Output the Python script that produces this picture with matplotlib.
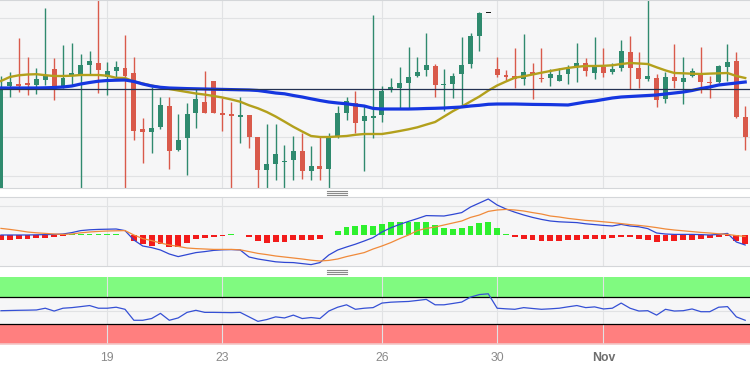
import matplotlib
matplotlib.use('Agg')
import matplotlib.pyplot as plt
import numpy as np
from matplotlib.lines import Line2D

plt.rcParams['font.family'] = ['Liberation Sans', 'DejaVu Sans']

# 4h candles, Oct 18 -> Nov 1
opens = [1.0508, 1.0614, 1.06165, 1.06165, 1.0615, 1.0620, 1.0631, 1.0614, 1.0624, 1.0626,
         1.0635, 1.0637, 1.0623, 1.0629, 1.0632, 1.0627, 1.0571, 1.0568, 1.0573, 1.0594,
         1.0550, 1.0562, 1.0587, 1.0598, 1.0619, 1.0587, 1.0586, 1.0583, 1.0585, 1.0563,
         1.0530, 1.0536, 1.0538, 1.0540, 1.0549, 1.0529, 1.0534, 1.0531, 1.0563, 1.0587,
         1.0597, 1.0579, 1.0582, 1.0585, 1.0611, 1.0612, 1.0617, 1.0624, 1.0630, 1.0634,
         1.0615, 1.0616, 1.0626, 1.0636, 1.0664, 1.0687, 1.0631, 1.06245, 1.0624, 1.0621,
         1.0628, 1.0622, 1.0622, 1.0619, 1.0626, 1.0633, 1.0637, 1.0627, 1.0633, 1.0628,
         1.0632, 1.0648, 1.0632, 1.0621, 1.0622, 1.0601, 1.0623, 1.0618, 1.0624, 1.0626,
         1.0618, 1.0618, 1.0633, 1.0639, 1.0583]
highs = [1.0624, 1.0628, 1.0662, 1.0643, 1.0632, 1.0692, 1.0642, 1.0655, 1.0657, 1.0646,
         1.0649, 1.0702, 1.0638, 1.0639, 1.0665, 1.0643, 1.0582, 1.0613, 1.0603, 1.0603,
         1.0586, 1.0597, 1.0612, 1.0629, 1.0619, 1.0602, 1.0598, 1.0603, 1.0585, 1.0563,
         1.0576, 1.0576, 1.0555, 1.0564, 1.0567, 1.0554, 1.0563, 1.0567, 1.0594, 1.0603,
         1.0609, 1.0595, 1.0685, 1.0614, 1.0622, 1.0633, 1.0653, 1.0643, 1.0667, 1.0636,
         1.0631, 1.0627, 1.0663, 1.0667, 1.0688, 1.0687, 1.0643, 1.0630, 1.0652, 1.0666,
         1.0637, 1.0652, 1.0631, 1.0632, 1.0635, 1.0657, 1.0642, 1.0663, 1.0652, 1.0637,
         1.0660, 1.0664, 1.0648, 1.0702, 1.0626, 1.0628, 1.0656, 1.0643, 1.0632, 1.0653,
         1.0624, 1.0635, 1.0656, 1.0648, 1.0594]
lows = [1.0505, 1.0603, 1.0608, 1.0605, 1.0606, 1.0615, 1.0600, 1.0612, 1.0615, 1.0508,
        1.0625, 1.0607, 1.0605, 1.0623, 1.0508, 1.0560, 1.0537, 1.0547, 1.0571, 1.0531,
        1.0549, 1.0525, 1.0572, 1.0587, 1.0587, 1.0569, 1.0508, 1.0557, 1.0552, 1.0508,
        1.0508, 1.0520, 1.0508, 1.0520, 1.0521, 1.0520, 1.0520, 1.0508, 1.0562, 1.0580,
        1.0567, 1.0529, 1.0562, 1.0578, 1.0608, 1.0591, 1.0591, 1.0623, 1.0624, 1.0603,
        1.0589, 1.0602, 1.0595, 1.0632, 1.0649, 1.0687, 1.0623, 1.0620, 1.0612, 1.0615,
        1.0601, 1.0618, 1.0614, 1.0619, 1.0616, 1.0618, 1.0624, 1.0621, 1.0623, 1.0626,
        1.0629, 1.0611, 1.0612, 1.0619, 1.0593, 1.0597, 1.0612, 1.0596, 1.0623, 1.0607,
        1.0602, 1.0617, 1.0619, 1.0582, 1.0550]
closes = [1.0611, 1.0618, 1.06145, 1.06155, 1.0621, 1.0624, 1.0614, 1.0622, 1.0627, 1.0635,
          1.0639, 1.0630, 1.0629, 1.0633, 1.0624, 1.0569, 1.0568, 1.0572, 1.0595, 1.0549,
          1.0560, 1.0586, 1.0601, 1.0587, 1.0587, 1.05855, 1.0584, 1.0585, 1.0563, 1.0530,
          1.0536, 1.0546, 1.0539, 1.0549, 1.0529, 1.0534, 1.0531, 1.0563, 1.0587, 1.0599,
          1.0577, 1.0584, 1.0584, 1.0609, 1.0613, 1.0617, 1.0623, 1.0628, 1.0635, 1.0615,
          1.0616, 1.0624, 1.0635, 1.0664, 1.0687, 1.0687, 1.0625, 1.06235, 1.0621, 1.0628,
          1.0625, 1.0621, 1.0626, 1.0625, 1.0631, 1.0637, 1.0629, 1.0633, 1.0627, 1.0631,
          1.0649, 1.0632, 1.0621, 1.0624, 1.0600, 1.0623, 1.0619, 1.0622, 1.0629, 1.0618,
          1.0617, 1.0634, 1.0638, 1.0583, 1.0563]

# moving averages
ma_fast = [1.0619, 1.0623, 1.06247, 1.06255, 1.06258, 1.06248, 1.0624, 1.0624, 1.06243, 1.0625,
           1.0625, 1.0625, 1.06243, 1.06222, 1.0622, 1.06185, 1.06165, 1.06145, 1.06125, 1.0611,
           1.06095, 1.0608, 1.06065, 1.06054, 1.0604, 1.06025, 1.06005, 1.05983, 1.05947, 1.05917,
           1.0588, 1.05835, 1.05784, 1.05732, 1.05685, 1.0564, 1.0563, 1.0563, 1.05635, 1.0564,
           1.05652, 1.0566, 1.0566, 1.0566, 1.05674, 1.0569, 1.05707, 1.05727, 1.05754, 1.0578,
           1.05834, 1.05888, 1.05935, 1.05985, 1.06035, 1.06094, 1.06145, 1.06185, 1.06223, 1.06237,
           1.06255, 1.06273, 1.0629, 1.06306, 1.06321, 1.06332, 1.0634, 1.0634, 1.06342, 1.06347,
           1.0636, 1.0637, 1.06365, 1.0636, 1.06327, 1.06296, 1.0627, 1.06267, 1.06263, 1.0626,
           1.06264, 1.06267, 1.0627, 1.0624, 1.0622]
ma_slow = [1.0612, 1.0612, 1.0612, 1.0612, 1.0612, 1.06122, 1.06125, 1.0613, 1.0614, 1.0616,
           1.06175, 1.06188, 1.06195, 1.06198, 1.0620, 1.06185, 1.0616, 1.0614, 1.06127, 1.0612,
           1.06117, 1.06114, 1.06112, 1.0611, 1.06108, 1.06106, 1.06104, 1.06102, 1.0610, 1.06095,
           1.06083, 1.0607, 1.06062, 1.06045, 1.0603, 1.06012, 1.05995, 1.0598, 1.0597, 1.05962,
           1.0595, 1.0594, 1.05916, 1.0591, 1.0591, 1.0591, 1.0591, 1.05912, 1.05915, 1.05917,
           1.0592, 1.05925, 1.0593, 1.0594, 1.05947, 1.05957, 1.0596, 1.0596, 1.0596, 1.05958,
           1.05956, 1.05955, 1.05954, 1.05952, 1.0595, 1.05965, 1.0598, 1.0599, 1.06005, 1.0602,
           1.0603, 1.06035, 1.0604, 1.06045, 1.0605, 1.0606, 1.0607, 1.0608, 1.06095, 1.06115,
           1.0613, 1.0615, 1.0616, 1.0617, 1.0618]
price_line = 1.0611
price_grid = [1.0682, 1.06425, 1.0603, 1.05635, 1.0524]

# MACD (pips)
macd_line = [0, 0, 0, 0, 0.1, 0.2, 0.3, 0.5, 1.2, 2.2,
             2.6, 2.8, 2.9, 3.0, 2.2, -2.5, -5.5, -6.3, -7.5, -9.5,
             -10.8, -9.8, -8.8, -8.3, -7.7, -7.4, -7.3, -7.5, -11, -12,
             -12.7, -13.4, -13.7, -13.8, -14.3, -14.8, -13.8, -10, -7.5, -6,
             -4.6, -3, -1.3, 1.5, 3.6, 5.3, 6.8, 8.2, 9.7, 9.6,
             9.5, 10.3, 11.2, 14, 16, 18, 15, 13, 11.4, 10,
             8.8, 7.8, 7, 6.6, 6.4, 6.2, 5.6, 5.2, 4.8, 4.5,
             5.3, 4.5, 4.1, 3.2, 1.0, 0.5, 0.3, 0.3, 0.3, 0.2,
             0, 0.3, 0.8, -3.5, -5]
macd_signal = [3.3, 2.8, 2.2, 1.5, 1.1, 0.8, 0.5, 0.3, 0.5, 1.1,
               1.5, 1.8, 2.0, 2.1, 2.2, 0, -1.8, -2.8, -4, -5,
               -5.7, -6.5, -6.8, -7, -7.2, -7.2, -7.2, -7.4, -8.3, -9.2,
               -9.8, -10.5, -11, -11.5, -12, -12.6, -13, -12.7, -12, -10.8,
               -9.8, -8.8, -7, -5.5, -3.8, -1.8, 0, 2.2, 3.3, 4,
               5, 6, 7, 8.8, 10, 11.8, 12.5, 12.8, 12.5, 12,
               11.2, 10.5, 9.5, 9, 8.3, 7.8, 7.3, 7, 6.6, 6.2,
               5.7, 5.2, 4.8, 4.3, 3.7, 3, 2.5, 2.1, 1.7, 1.3,
               1, 0.6, 0.3, -0.3, -0.7]
macd_hist = [-2.5, -2.5, -2.2, -2, -1.3, -1.3, -1, -0.7, 0.5, 0.6,
             0.6, 0.6, 0.6, 0.5, 0.2, -2.8, -4.7, -5.5, -4.5, -6,
             -6, -4.2, -2.2, -1.5, -1, -0.4, 0.3, 0.2, -0.8, -3,
             -3.8, -3.3, -3.3, -2.5, -2.5, -2.5, -2.2, 0, 2.2, 4.2,
             4.7, 4.8, 4.7, 5.3, 6.3, 6.5, 6.3, 6.7, 6.7, 5,
             3.7, 3, 3.7, 4.7, 6, 6.3, 3.3, 0.7, -0.8, -2,
             -2.7, -3, -3, -2.8, -2.5, -2.3, -2.2, -2, -2, -1.7,
             -0.8, -1, -1.8, -2.3, -3.3, -3, -2.8, -2.5, -2.3, -2,
             -1.7, -1.2, -0.5, -3, -4.7]
macd_grid = [14.5]

rsi = [49.7, 50, 50.3, 50.5, 50.8, 53.4, 49.2, 53.4, 54.3, 55.8,
       57.4, 53.4, 53.4, 54.9, 51.8, 35.4, 35.4, 38, 45.7, 35.4,
       38.9, 47.2, 50.3, 47.2, 47.2, 47, 46.8, 47.2, 40.5, 33.8,
       36.5, 40.5, 38.9, 43.1, 38, 39.5, 38, 49.2, 54.9, 58.5,
       51.8, 53.4, 54.3, 61.1, 62.4, 63, 63.5, 65, 66.6, 58.5,
       58.5, 60.5, 62.6, 70, 73.8, 74.9, 53.4, 52.5, 51.8, 54.3,
       53, 51.8, 52.5, 53.4, 55.5, 57.4, 54.3, 55.4, 52.3, 53.4,
       61.1, 53.4, 49.2, 49.7, 43.1, 51.8, 49.2, 49.7, 52.3, 48.2,
       48.2, 54.9, 55.8, 40.5, 35.4]

tick_pos = [12, 25, 43, 56, 68]
tick_labels = ['19', '23', '26', '30', 'Nov']

x = np.arange(len(opens))
o = np.array(opens)
h = np.array(highs)
l = np.array(lows)
c = np.array(closes)
col = np.where(c > o, '#2f8a6e', np.where(c < o, '#d95a4b', '#1a1a1a'))

W, H = 750, 370
fig = plt.figure(figsize=(7.5, 3.7), dpi=100)
fig.patch.set_facecolor('white')

def panel(top, bottom):
    ax = fig.add_axes([0, 1 - bottom / H, 1, (bottom - top) / H])
    ax.set_facecolor('#f6f6f7')
    ax.set_xlim(-0.11, 84.54)
    ax.set_xticks(tick_pos)
    ax.grid(axis='both', color='#e1e2e4', lw=0.8)
    ax.set_axisbelow(True)
    ax.tick_params(length=0, labelleft=False, labelbottom=False)
    for s in ['left', 'right']:
        ax.spines[s].set_visible(False)
    for s in ['top', 'bottom']:
        ax.spines[s].set_color('#d4d6d9')
        ax.spines[s].set_linewidth(0.8)
    return ax

# price panel
ax = panel(0, 188)
ax.set_ylim(1.0512, 1.0700)
ax.set_yticks(price_grid)
ax.vlines(x, l, h, colors=col, lw=1, zorder=2)
ax.bar(x, np.maximum(np.abs(c - o), 0.00012), bottom=np.minimum(o, c),
       width=0.56, color=col, zorder=3)
ax.plot(x, ma_fast, color='#b3a01c', lw=1.7, zorder=4)
ax.plot(x, ma_slow, color='#1536e0', lw=2.3, zorder=4)
ax.axhline(price_line, color='#243253', lw=0.9, zorder=5)

# MACD panel
ax2 = panel(197, 266)
ax2.set_ylim(-15.5, 19)
ax2.set_yticks(macd_grid)
hist = np.array(macd_hist)
ax2.bar(x, hist, width=0.66, color=np.where(hist >= 0, '#2ef02e', '#f21b1b'), zorder=2)
ax2.plot(x, macd_line, color='#2f47d3', lw=0.9, zorder=3)
ax2.plot(x, macd_signal, color='#f08a3a', lw=0.9, zorder=3)

# RSI panel
ax3 = panel(277, 344)
ax3.set_ylim(0, 100)
ax3.set_yticks([50])
ax3.axhspan(70, 100, color='#80fa80', lw=0, zorder=0.5)
ax3.axhspan(0, 30, color='#ff7f7f', lw=0, zorder=0.5)
ax3.axhline(70, color='black', lw=0.9)
ax3.axhline(30, color='black', lw=0.9)
ax3.plot(x, rsi, color='#3550d5', lw=0.9, zorder=3)
ax3.spines['top'].set_visible(False)
ax3.spines['bottom'].set_color('#f3c6c6')
ax3.spines['bottom'].set_linewidth(1.2)
ax3.tick_params(labelbottom=True, pad=6, labelsize=8.8, labelcolor='#8a8a8a')
ax3.set_xticks(tick_pos, tick_labels)
for t in ax3.get_xticklabels():
    if t.get_text() == 'Nov':
        t.set_fontweight('bold')
        t.set_color('#6e6e6e')

# pane resize handles
for ys in ([191, 193, 195], [269.5, 271.5, 273.5]):
    for yy in ys:
        fig.add_artist(Line2D([327 / W, 347 / W], [1 - yy / H] * 2,
                              color='#8a8a8a', lw=0.8))

fig.savefig('out.png', dpi=100)
